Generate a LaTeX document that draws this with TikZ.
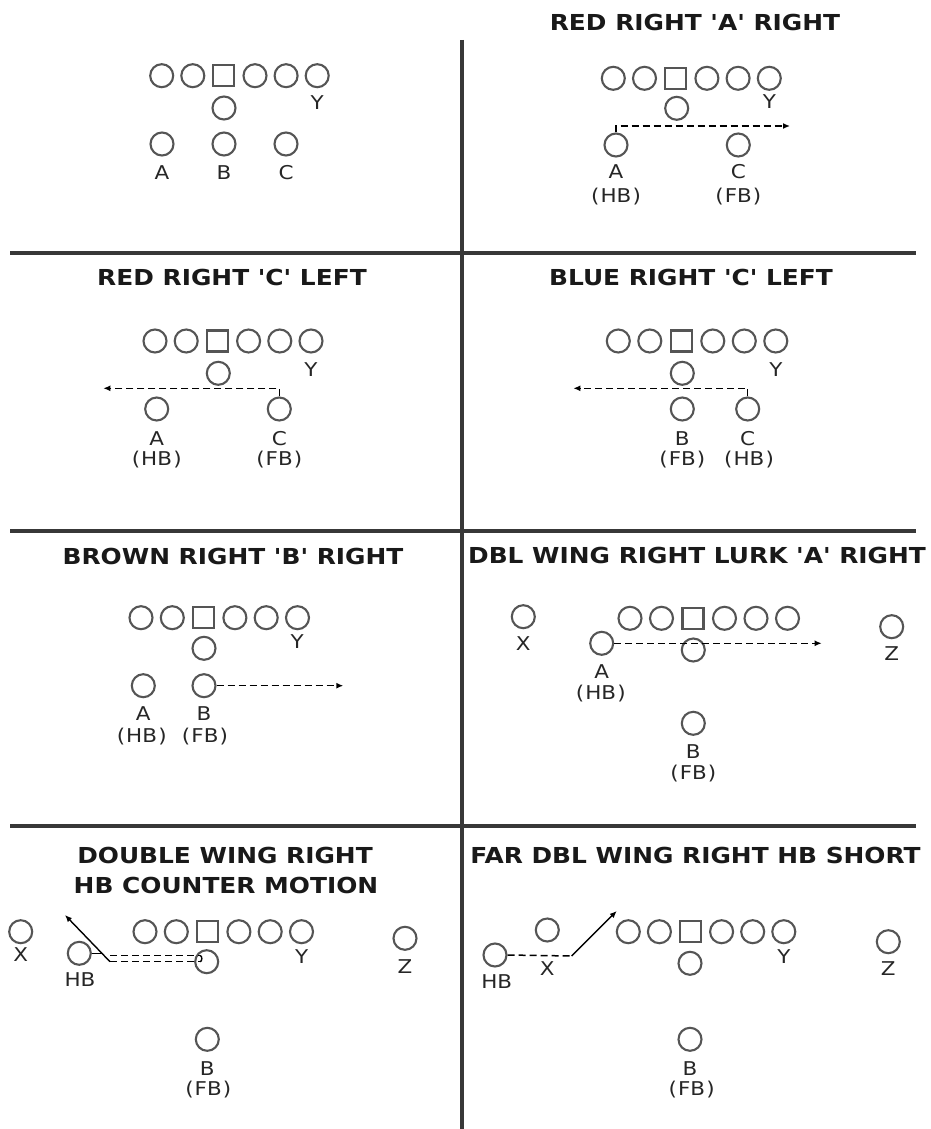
\documentclass[tikz,border=0pt]{standalone}
\usepackage{fontspec}
\usepackage{graphicx}
\setmainfont{DejaVu Sans}
\usetikzlibrary{arrows.meta}
\definecolor{plgray}{HTML}{555555}
\newcommand{\hs}[1]{\scalebox{1.13}[1]{#1}}
\newcommand{\pr}[1]{\hs{(\kern1pt#1\kern1pt)}}
\newcommand{\q}{\textquotesingle}
\newcommand{\oline}[4]{%
  \foreach \i in {1,...,6}{%
    \ifnum\i=3
      \node[ctr] (#1\i) at ({#2+(\i-1)*#4},#3) {};
    \else
      \node[pl] (#1\i) at ({#2+(\i-1)*#4},#3) {};
    \fi}}
\begin{document}
\begin{tikzpicture}[x=1pt,y=-1pt,
  pl/.style={circle,draw=plgray,line width=2.1pt,minimum size=23pt,inner sep=0pt},
  ctr/.style={rectangle,draw=plgray,line width=2.1pt,minimum size=21pt,inner sep=0pt},
  lab/.style={font=\fontsize{19}{22}\selectfont,inner sep=0pt,text=black!85},
  ttl/.style={font=\bfseries\fontsize{22}{26}\selectfont,inner sep=0pt,text=black!90},
  gridline/.style={draw=black!78,line width=3.2pt},
  motion/.style={line width=1.5pt,dash pattern=on 7pt off 4pt},
  solidm/.style={line width=1.4pt},
  tip/.style={-{Latex[length=7pt,width=6pt]}},
]
\useasboundingbox (0,0) rectangle (930,1129);
% grid
\coordinate (v1) at (462,40); \coordinate (v2) at (462,1129);
\coordinate (h1a) at (10,253); \coordinate (h1b) at (916,253);
\coordinate (h2a) at (10,531); \coordinate (h2b) at (916,531);
\coordinate (h3a) at (10,826); \coordinate (h3b) at (916,826);
\draw[gridline] (v1) -- (v2);
\draw[gridline] (h1a) -- (h1b);
\draw[gridline] (h2a) -- (h2b);
\draw[gridline] (h3a) -- (h3b);

% ---------- panel 1
\oline{pa}{161.7}{75.7}{31.1}
\node[lab] (pay) at (317.3,103) {\hs{Y}};
\node[pl] (paq) at (224,108) {};
\node[pl] (paA) at (162,144) {};
\node[pl] (paB) at (224,144) {};
\node[pl] (paC) at (286,144) {};
\node[lab] (paAl) at (162,173) {\hs{A}};
\node[lab] (paBl) at (224,173) {\hs{B}};
\node[lab] (paCl) at (286,173) {\hs{C}};

% ---------- panel 2
\node[ttl] (t2) at (695,22) {\hs{RED RIGHT \q A\q{} RIGHT}};
\oline{pb}{613.3}{78.3}{31.2}
\node[lab] (pby) at (769.3,101.7) {\hs{Y}};
\node[pl] (pbq) at (676.7,108.3) {};
\node[pl] (pbA) at (616,145) {};
\node[pl] (pbC) at (738.3,145) {};
\node[lab] (pbAl) at (616,171.7) {\hs{A}};
\node[lab] (pbAh) at (616,196.7) {\pr{HB}};
\node[lab] (pbCl) at (738.3,171.7) {\hs{C}};
\node[lab] (pbCf) at (738.3,196.7) {\pr{FB}};
\coordinate (pbe) at (790,126);
\draw[motion,tip] (pbA.north) |- (pbe);

% ---------- panel 3
\node[ttl] (t3) at (232,277) {\hs{RED RIGHT \q C\q{} LEFT}};
\oline{pc}{155}{341}{31.2}
\node[lab] (pcy) at (311,370) {\hs{Y}};
\node[pl] (pcq) at (218.3,373.3) {};
\node[pl] (pcA) at (156.7,409) {};
\node[pl] (pcC) at (279.3,409) {};
\node[lab] (pcAl) at (156.7,438.3) {\hs{A}};
\node[lab] (pcAh) at (156.7,460) {\pr{HB}};
\node[lab] (pcCl) at (279.3,438.3) {\hs{C}};
\node[lab] (pcCf) at (279.3,460) {\pr{FB}};
\coordinate (pce) at (103.3,388.3);
\draw[motion,tip] (pcC.north) |- (pce);

% ---------- panel 4
\node[ttl] (t4) at (691,277) {\hs{BLUE RIGHT \q C\q{} LEFT}};
\oline{pd}{618.3}{341}{31.5}
\node[lab] (pdy) at (776,370) {\hs{Y}};
\node[pl] (pdq) at (682.3,373.3) {};
\node[pl] (pdB) at (682.3,409) {};
\node[pl] (pdC) at (747.7,409) {};
\node[lab] (pdBl) at (682.3,438.3) {\hs{B}};
\node[lab] (pdBf) at (682.3,460) {\pr{FB}};
\node[lab] (pdCl) at (747.7,438.3) {\hs{C}};
\node[lab] (pdCh) at (749,460) {\pr{HB}};
\coordinate (pde) at (573.3,388.3);
\draw[motion,tip] (pdC.north) |- (pde);

% ---------- panel 5
\node[ttl] (t5) at (233,556) {\hs{BROWN RIGHT \q B\q{} RIGHT}};
\oline{pe}{141}{617.7}{31.3}
\node[lab] (pey) at (297.3,641.7) {\hs{Y}};
\node[pl] (peq) at (204,648.3) {};
\node[pl] (peA) at (143.3,685.7) {};
\node[pl] (peB) at (204,685.7) {};
\node[lab] (peAl) at (143.3,713.3) {\hs{A}};
\node[lab] (peAh) at (141.7,736.7) {\pr{HB}};
\node[lab] (peBl) at (204,713.3) {\hs{B}};
\node[lab] (peBf) at (205,736.7) {\pr{FB}};
\coordinate (pee) at (343.3,685.7);
\draw[motion,tip] (peB.east) -- (pee);

% ---------- panel 6
\node[ttl] (t6) at (697,555) {\hs{DBL WING RIGHT LURK \q A\q{} RIGHT}};
\node[pl] (pfX) at (523.3,616.7) {};
\node[lab] (pfXl) at (523.3,643.3) {\hs{X}};
\oline{pf}{630}{618.3}{31.5}
\node[pl] (pfZ) at (891.7,626.7) {};
\node[lab] (pfZl) at (891.7,653.3) {\hs{Z}};
\node[pl] (pfq) at (693.3,650) {};
\node[pl] (pfA) at (601.7,643.3) {};
\node[lab] (pfAl) at (601.7,671.7) {\hs{A}};
\node[lab] (pfAh) at (600.7,693.3) {\pr{HB}};
\node[pl] (pfB) at (693.3,723.3) {};
\node[lab] (pfBl) at (693.3,751.7) {\hs{B}};
\node[lab] (pfBf) at (693.3,773.3) {\pr{FB}};
\coordinate (pfe) at (821.7,643.3);
\draw[motion,tip] (pfA.east) -- (pfe);

% ---------- panel 7
\node[ttl] (t7a) at (225,855) {\hs{DOUBLE WING RIGHT}};
\node[ttl] (t7b) at (226,885) {\hs{HB COUNTER MOTION}};
\node[pl] (pgX) at (20.7,931.7) {};
\node[lab] (pgXl) at (20.7,955) {\hs{X}};
\node[pl] (pgH) at (79.3,953.3) {};
\node[lab] (pgHl) at (80,980) {\hs{HB}};
\oline{pg}{145}{931.7}{31.3}
\node[lab] (pgy) at (301.7,956.7) {\hs{Y}};
\node[pl] (pgq) at (206.7,961.7) {};
\node[pl] (pgZ) at (405,938.3) {};
\node[lab] (pgZl) at (405,966.7) {\hs{Z}};
\node[pl] (pgB) at (207.3,1039.3) {};
\node[lab] (pgBl) at (207.3,1068.3) {\hs{B}};
\node[lab] (pgBf) at (208.3,1090) {\pr{FB}};
\coordinate (pgm1) at (103,953.3);
\coordinate (pgm2) at (110,961.7);
\coordinate (pgt) at (65,915);
\coordinate (pgd1) at (110,955.5);
\coordinate (pgd2) at (200,955.5);
\coordinate (pgd3) at (200,961.7);
\draw[solidm] (pgH.east) -- (pgm1);
\draw[solidm,tip] (pgm2) -- (pgt);
\draw[motion] (pgd1) -- (pgd2);
\draw[motion] (pgm2) -- (pgd3);
\draw[solidm] (pgd2) to[out=0,in=0] (pgd3);

% ---------- panel 8
\node[ttl] (t8) at (695.5,855) {\hs{FAR DBL WING RIGHT HB SHORT}};
\node[pl] (phH) at (495,955) {};
\node[lab] (phHl) at (496.7,981.7) {\hs{HB}};
\node[pl] (phX) at (547.3,930) {};
\node[lab] (phXl) at (547.3,968.3) {\hs{X}};
\oline{ph}{628.3}{931.7}{31.1}
\node[lab] (phy) at (784,956.7) {\hs{Y}};
\node[pl] (phq) at (690,963.3) {};
\node[pl] (phZ) at (888.3,941.7) {};
\node[lab] (phZl) at (888.3,968.3) {\hs{Z}};
\node[pl] (phB) at (690,1039.3) {};
\node[lab] (phBl) at (690,1068.3) {\hs{B}};
\node[lab] (phBf) at (691.7,1090) {\pr{FB}};
\coordinate (phk) at (571.7,956);
\coordinate (pht) at (616.7,911);
\draw[motion] (phH.east) -- (phk);
\draw[solidm,tip] (phk) -- (pht);
\end{tikzpicture}
\end{document}
